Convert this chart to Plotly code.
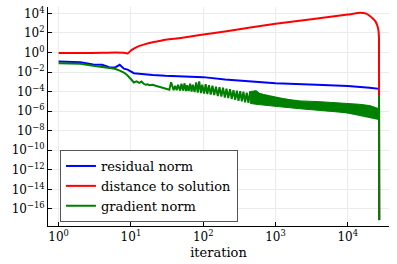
import plotly.graph_objects as go

# ---- data (log10 values) ----
blue_iter = [1, 2, 3, 4, 5, 6, 7, 8, 9, 10, 11, 13, 15, 20, 30, 50, 100, 200, 400, 600, 1000, 3700, 10000, 20000, 27000, 27200]
blue_log = [-0.92, -1.0, -1.22, -1.26, -1.5, -1.54, -1.26, -1.65, -1.75, -1.95, -2.12, -2.17, -2.22, -2.3, -2.38, -2.42, -2.52, -2.75, -2.95, -3.07, -3.15, -3.3, -3.42, -3.6, -3.72, -17.1]

red_iter = [1, 2, 4, 6, 8, 9, 10, 11, 12, 15, 20, 23, 30, 40, 60, 90, 200, 1000, 10000, 15000, 18000, 20000, 22000, 24000, 25500, 26500, 27000, 27200]
red_log = [-0.06, -0.05, -0.03, -0.01, -0.03, -0.1, 0.2, 0.4, 0.55, 0.8, 1.05, 1.13, 1.3, 1.4, 1.58, 1.78, 2.15, 2.93, 3.88, 4.05, 3.97, 3.75, 3.5, 3.2, 2.8, 2.3, 1.5, -17.1]

green_iter = [1, 2, 3, 4, 5, 6, 7, 8, 9, 10, 11, 12, 13, 14, 15, 16, 17, 18, 20, 22, 25, 28, 31, 34,
              36, 39, 41, 43, 45, 48, 50, 53, 55, 58, 60, 63, 66, 69, 72, 76, 80, 84, 88, 93, 97, 103,
              108, 114, 120, 127, 134, 142, 150, 159, 168, 178, 188, 199, 210, 222, 235, 248, 262, 277,
              292, 308, 325, 342, 360, 380, 400, 422, 445]
green_log = [-1.09, -1.16, -1.36, -1.5, -1.6, -1.67, -1.85, -2.05, -2.35, -2.75, -3.07, -2.95, -3.1, -2.97, -3.2, -3.3, -3.25, -3.35, -3.3, -3.4, -3.5, -3.6, -3.72, -3.8,
             -3.05, -3.85, -3.4, -3.85, -3.3, -3.9, -3.2, -3.9, -3.15, -3.95, -3.35, -3.95, -3.2, -4.0, -3.3, -4.05, -3.05, -4.1, -2.95, -4.15, -3.3, -4.2,
             -3.25, -4.25, -3.35, -4.3, -3.4, -4.35, -3.5, -4.45, -3.55, -4.5, -3.6, -4.6, -3.7, -4.65, -3.75, -4.75, -3.85, -4.85,
             -3.9, -4.95, -3.95, -5.0, -4.0, -5.1, -4.1, -5.15, -4.05]

band_iter = [445, 540, 608, 800, 1150, 2180, 4110, 7780, 14700, 20200, 25300, 26900]
band_top_log = [-4.0, -3.9, -4.2, -4.45, -4.7, -4.95, -5.03, -5.15, -5.3, -5.43, -5.64, -5.75]
band_base_log = [-5.2, -5.3, -5.35, -5.45, -5.55, -5.75, -5.95, -6.1, -6.3, -6.5, -6.7, -6.8]

green_end_iter = [26900, 27050, 27200]
green_end_log = [-6.8, -4.4, -17.16]

x_tick_exp = [0, 1, 2, 3, 4]
y_tick_exp = [4, 2, 0, -2, -4, -6, -8, -10, -12, -14, -16]

# ---- figure ----
p = lambda l: [10 ** v for v in l]

def sup(e):
    s = str(e).replace('-', '\u2212')
    return f"10<sup>{s}</sup>"

fig = go.Figure()
fig.add_trace(go.Scatter(x=blue_iter, y=p(blue_log), mode='lines', name='residual norm',
                         line=dict(color='#0000ff', width=2)))
fig.add_trace(go.Scatter(x=red_iter, y=p(red_log), mode='lines', name='distance to solution',
                         line=dict(color='#ff0000', width=2, shape='spline', smoothing=0.3)))
fig.add_trace(go.Scatter(x=band_iter + band_iter[::-1], y=p(band_top_log + band_base_log[::-1]),
                         mode='lines', fill='toself', fillcolor='#008000', showlegend=False,
                         line=dict(color='#008000', width=1)))
fig.add_trace(go.Scatter(x=green_iter + green_end_iter, y=p(green_log + green_end_log), mode='lines',
                         name='gradient norm', line=dict(color='#008000', width=2)))

font = "DejaVu Serif"
axis_common = dict(type='log', showline=True, linecolor='black', linewidth=1, mirror=False,
                   ticks='inside', ticklen=4, tickcolor='black', showgrid=True,
                   gridcolor='#ebebeb', gridwidth=1, zeroline=False, automargin=False,
                   tickfont=dict(family=font, size=12, color='black'))
fig.update_xaxes(range=[-0.147, 4.57], tickvals=[10 ** e for e in x_tick_exp],
                 ticktext=[sup(e) for e in x_tick_exp],
                 title=dict(text='iteration', font=dict(family=font, size=13, color='black'), standoff=4),
                 **axis_common)
fig.update_yaxes(range=[-17.74, 4.65], tickvals=[10 ** e for e in y_tick_exp],
                 ticktext=[sup(e) for e in y_tick_exp], **axis_common)
fig.update_layout(
    width=397, height=264,
    margin=dict(l=48, r=8, t=7, b=38),
    paper_bgcolor='white', plot_bgcolor='white',
    font=dict(family=font, color='black'),
    legend=dict(x=0.035, y=0.347, xanchor='left', yanchor='top',
                bgcolor='white', bordercolor='#555555', borderwidth=1,
                font=dict(family=font, size=13, color='black'), tracegroupgap=0),
    hovermode=False,
)
fig.write_html("out.html", config={'displayModeBar': False},
               post_script="document.body.style.margin='0px';")
